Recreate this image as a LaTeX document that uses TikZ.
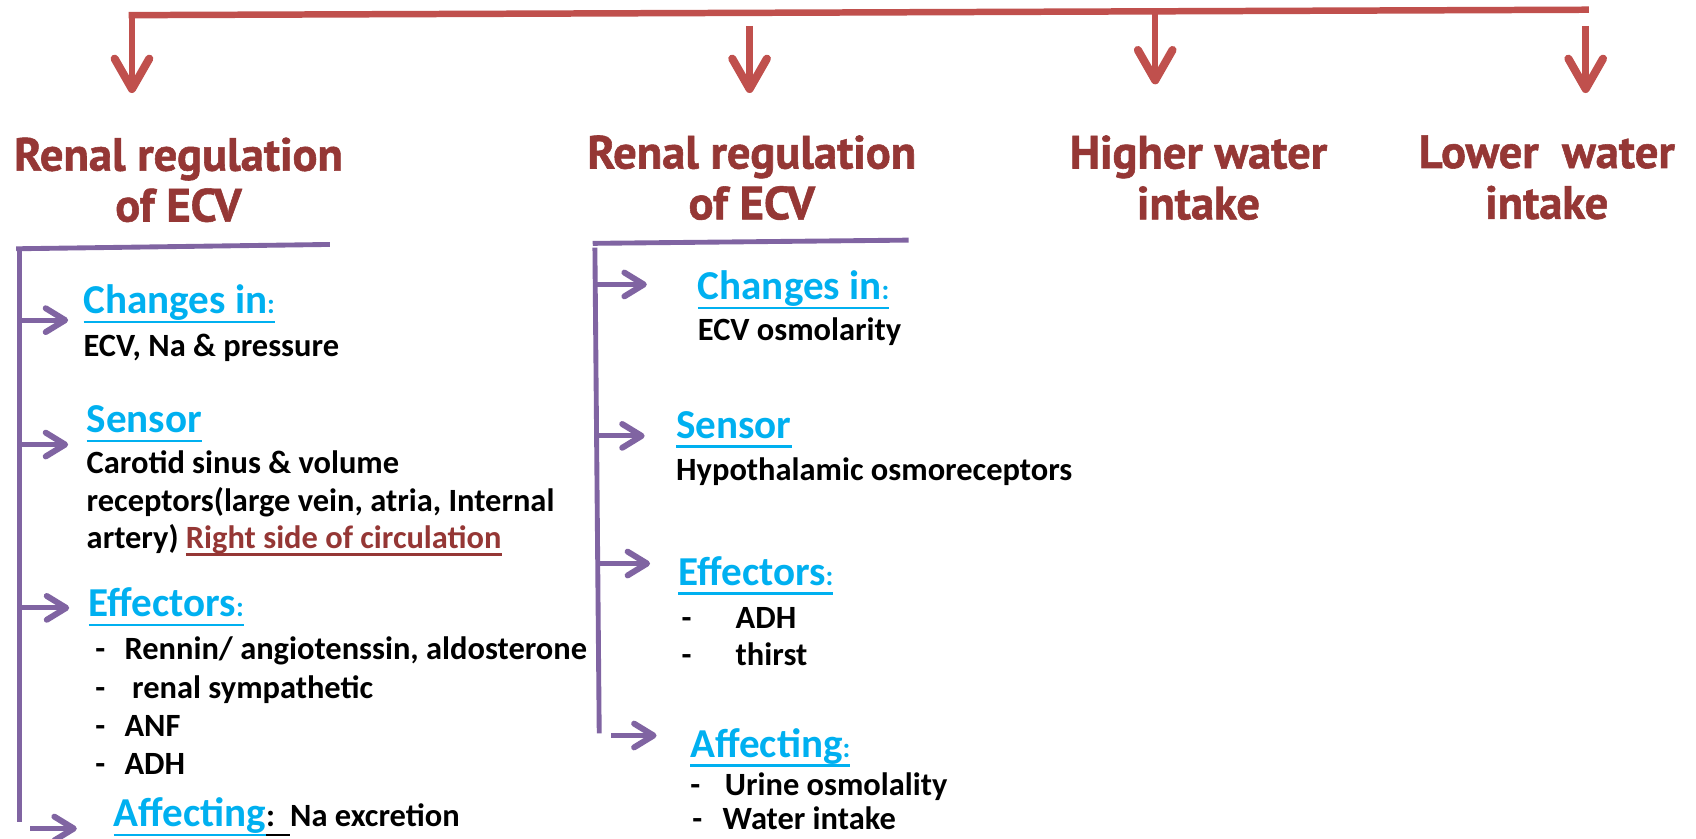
\documentclass[tikz,border=0pt]{standalone}
\usepackage{fontspec}
\usetikzlibrary{arrows.meta}
\newfontfamily\titlefont{PT Sans}[BoldFeatures={FakeBold=1.2}]
\newfontfamily\calfont{Carlito}
\definecolor{arrred}{HTML}{C0504D}
\definecolor{ttlred}{HTML}{953735}
\definecolor{purp}{HTML}{8064A2}
\definecolor{cyanh}{HTML}{00B0F0}
\newcommand\headfont{\calfont\bfseries\fontsize{38}{40}\selectfont}
\newcommand\bodyfont{\calfont\bfseries\fontsize{30}{35}\selectfont}
\newcommand\smcolon{{\fontsize{26}{28}\selectfont:}}
% underline with fixed depth: #1 = depth of rule bottom below baseline
\newcommand\myul[2][9pt]{\leavevmode\setbox0\hbox{#2}\rlap{\rule[-#1]{\wd0}{2.4pt}}\box0}
\begin{document}
\begin{tikzpicture}[x=1pt,y=-1pt,
  titlest/.style={font=\titlefont\bfseries\fontsize{43}{47}\selectfont, text=ttlred, align=center, inner sep=0pt, anchor=north},
  head/.style={font=\headfont, text=cyanh, inner sep=0pt, anchor=base west},
  body/.style={font=\bodyfont, text=black, inner sep=0pt, anchor=base west},
  redline/.style={draw=arrred, line width=6pt},
  redarrow/.style={draw=arrred, line width=6pt, -{Straight Barb[length=28pt,width=32pt,round,line width=7.5pt]}},
  purpline/.style={draw=purp, line width=4.5pt},
  purparrow/.style={draw=purp, line width=4.5pt, -{Straight Barb[length=18pt,width=22pt,round,line width=5.5pt]}}
]
\fill[white] (0,0) rectangle (1568,775);
\useasboundingbox (0,0) rectangle (1568,775);

% ---------- titles ----------
\node[titlest] (t1) at (165,127) {Renal regulation\\of ECV};
\node[titlest] (t2) at (695,125) {Renal regulation\\of ECV};
\node[titlest] (t3) at (1108,125) {Higher water\\intake};
\node[titlest] (t4) at (1430,125) {Lower\ \ water\\intake};

% ---------- red top bar and arrows ----------
\coordinate (barL) at (122,14);
\coordinate (barR) at (1466,9);
\coordinate (a1s) at (122,14);   \coordinate (a1e) at (122,86);
\coordinate (a2s) at (693,24);   \coordinate (a2e) at (693,86);
\coordinate (a3s) at (1068,11);  \coordinate (a3e) at (1068,78);
\coordinate (a4s) at (1466,24);  \coordinate (a4e) at (1466,86);
\draw[redline, line cap=rect] (barL) -- (barR);
\draw[redarrow] (a1s) -- (a1e);
\draw[redarrow] (a2s) -- (a2e);
\draw[redarrow] (a3s) -- (a3e);
\draw[redarrow] (a4s) -- (a4e);

% ---------- left bracket ----------
\coordinate (lt1) at (15,230);  \coordinate (lt2) at (305,226);
\coordinate (lv1) at (18,230);  \coordinate (lv2) at (18,760);
\draw[purpline] (lt1) -- (lt2);
\draw[purpline] (lv1) -- (lv2);
\coordinate (lb1) at (18,296); \coordinate (lh1) at (63,296);
\coordinate (lb2) at (18,411); \coordinate (lh2) at (63,411);
\coordinate (lb3) at (18,562); \coordinate (lh3) at (64,562);
\coordinate (lb4) at (28,766); \coordinate (lh4) at (71,766);
\draw[purparrow] (lb1) -- (lh1);
\draw[purparrow] (lb2) -- (lh2);
\draw[purparrow] (lb3) -- (lh3);
\draw[purparrow] (lb4) -- (lh4);

% ---------- left texts ----------
\node[head] (lc) at (77,290) {\myul{Changes in\smcolon}};
\node[body] (lc1) at (77,330) {ECV, Na \& pressure};
\node[head] (ls) at (80,400) {\myul{Sensor}};
\node[body] (ls1) at (80,438) {Carotid sinus \& volume};
\node[body] (ls2) at (80,473) {receptors(large vein, atria, Internal};
\node[body] (ls3) at (80,507) {artery) {\color{ttlred}\myul[7pt]{Right side of circulation}}};
\node[head] (le) at (82,570) {\myul{Effectors\smcolon}};
\node[body] (le1) at (88,610) {\makebox[27pt][l]{-}Rennin/ angiotenssin, aldosterone};
\node[body] (le2) at (88,646) {\makebox[34pt][l]{-}renal sympathetic};
\node[body] (le3) at (88,681) {\makebox[27pt][l]{-}ANF};
\node[body] (le4) at (88,716) {\makebox[27pt][l]{-}ADH};
\node[body] (la) at (105,764) {{\headfont\color{cyanh}\myul{Affecting}}\myul{:\hspace{14pt}}Na excretion};

% ---------- middle bracket ----------
\coordinate (mt1) at (548,225);  \coordinate (mt2) at (840,222);
\coordinate (mv1) at (550,229);  \coordinate (mv2) at (554,678);
\draw[purpline] (mt1) -- (mt2);
\draw[purpline] (mv1) -- (mv2);
\coordinate (mb1) at (551,263); \coordinate (mh1) at (598,263);
\coordinate (mb2) at (552,403); \coordinate (mh2) at (596,403);
\coordinate (mb3) at (553,521); \coordinate (mh3) at (601,521);
\coordinate (mb4) at (565,680); \coordinate (mh4) at (607,680);
\draw[purparrow] (mb1) -- (mh1);
\draw[purparrow] (mb2) -- (mh2);
\draw[purparrow] (mb3) -- (mh3);
\draw[purparrow] (mb4) -- (mh4);

% ---------- middle texts ----------
\node[head] (mc) at (645,277) {\myul{Changes in\smcolon}};
\node[body] (mc1) at (645,315) {ECV osmolarity};
\node[head] (ms) at (625,405) {\myul{Sensor}};
\node[body] (ms1) at (625,444) {Hypothalamic osmoreceptors};
\node[head] (me) at (627,541) {\myul{Effectors\smcolon}};
\node[body] (me1) at (630,581) {\makebox[50pt][l]{-}ADH};
\node[body] (me2) at (630,615) {\makebox[50pt][l]{-}thirst};
\node[head] (ma) at (638,700) {\myul{Affecting\smcolon}};
\node[body] (ma1) at (638,735) {\makebox[32pt][l]{-}Urine osmolality};
\node[body] (ma2) at (640,767) {\makebox[28pt][l]{-}Water intake};
\end{tikzpicture}
\end{document}
